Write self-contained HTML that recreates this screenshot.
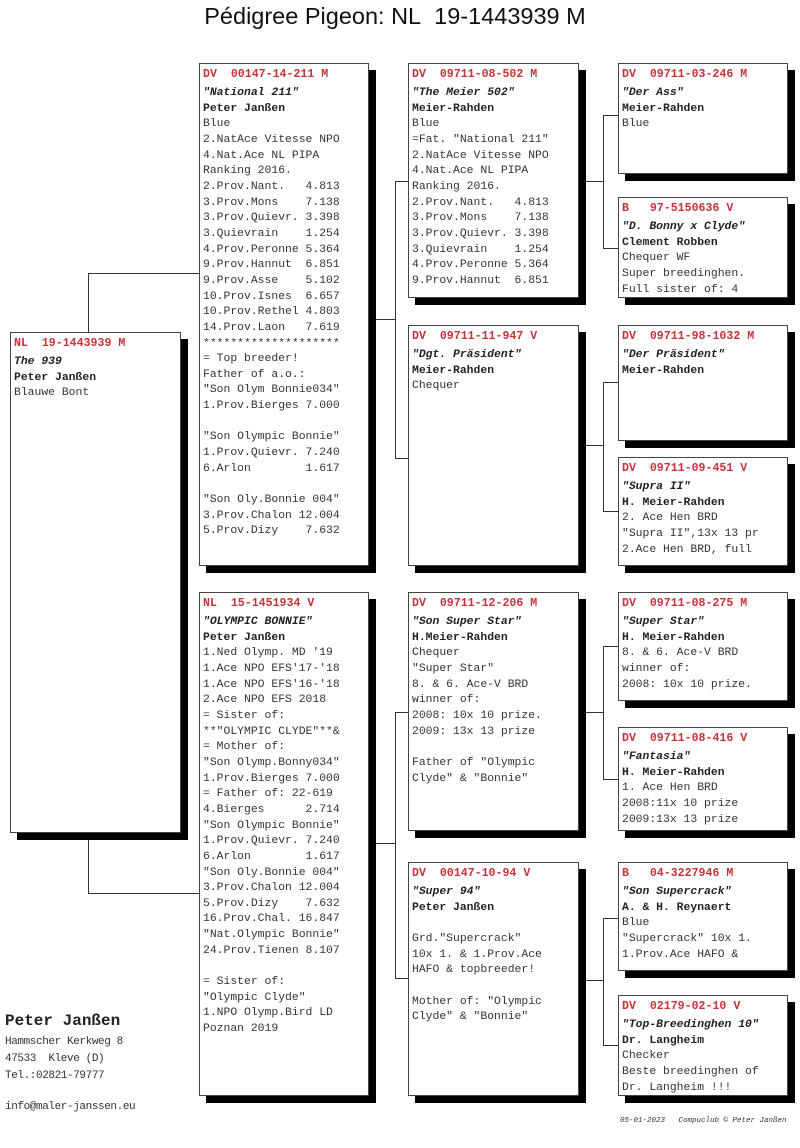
<!DOCTYPE html>
<html><head><meta charset="utf-8"><style>
body{margin:0;width:800px;height:1148px;background:#fff;position:relative;overflow:hidden;font-family:"Liberation Mono",monospace;}
.t{position:absolute;left:0;width:790px;top:3px;text-align:center;font:23.5px "Liberation Sans",sans-serif;color:#111;}
.b{position:absolute;background:#fff;border:1px solid #444;box-shadow:7px 7px 0 #000;box-sizing:border-box;padding:2px 0 0 3px;font-size:11.4px;line-height:15.65px;color:#333;white-space:pre;}
.b .h{color:#c8323a;font-weight:bold;line-height:18px;margin-bottom:2px;font-size:11.6px}
.b i{font-weight:bold;color:#222}
.b .n{font-weight:bold;color:#222}
.l{position:absolute;background:#333;}
.f{position:absolute;left:5px;font-size:11px;color:#333;white-space:pre;letter-spacing:-0.4px}
</style></head><body>
<div class="t">Pédigree Pigeon: NL&nbsp;&nbsp;19-1443939 M</div>

<div class="l" style="left:88px;top:273px;width:1px;height:60px"></div>
<div class="l" style="left:88px;top:273px;width:111px;height:1px"></div>
<div class="l" style="left:88px;top:832px;width:1px;height:61px"></div>
<div class="l" style="left:88px;top:893px;width:111px;height:1px"></div>

<div class="l" style="left:376px;top:319px;width:19px;height:1px"></div>
<div class="l" style="left:395px;top:181px;width:1px;height:278px"></div>
<div class="l" style="left:395px;top:181px;width:13px;height:1px"></div>
<div class="l" style="left:395px;top:458px;width:13px;height:1px"></div>

<div class="l" style="left:376px;top:843px;width:19px;height:1px"></div>
<div class="l" style="left:395px;top:712px;width:1px;height:267px"></div>
<div class="l" style="left:395px;top:712px;width:13px;height:1px"></div>
<div class="l" style="left:395px;top:978px;width:13px;height:1px"></div>

<div class="l" style="left:586px;top:181px;width:17px;height:1px"></div>
<div class="l" style="left:603px;top:115px;width:1px;height:134px"></div>
<div class="l" style="left:603px;top:115px;width:15px;height:1px"></div>
<div class="l" style="left:603px;top:248px;width:15px;height:1px"></div>

<div class="l" style="left:586px;top:445px;width:17px;height:1px"></div>
<div class="l" style="left:603px;top:382px;width:1px;height:130px"></div>
<div class="l" style="left:603px;top:382px;width:15px;height:1px"></div>
<div class="l" style="left:603px;top:511px;width:15px;height:1px"></div>

<div class="l" style="left:586px;top:712px;width:17px;height:1px"></div>
<div class="l" style="left:603px;top:646px;width:1px;height:134px"></div>
<div class="l" style="left:603px;top:646px;width:15px;height:1px"></div>
<div class="l" style="left:603px;top:779px;width:15px;height:1px"></div>

<div class="l" style="left:586px;top:980px;width:17px;height:1px"></div>
<div class="l" style="left:603px;top:918px;width:1px;height:128px"></div>
<div class="l" style="left:603px;top:918px;width:15px;height:1px"></div>
<div class="l" style="left:603px;top:1045px;width:15px;height:1px"></div>

<div class="b" style="left:10px;top:332px;width:171px;height:501px"><div class="h">NL  19-1443939 M</div><i>The 939</i>
<span class="n">Peter Janßen</span>
Blauwe Bont</div>

<div class="b" style="left:199px;top:63px;width:170px;height:503px"><div class="h">DV  00147-14-211 M</div><i>"National 211"</i>
<span class="n">Peter Janßen</span>
Blue
2.NatAce Vitesse NPO
4.Nat.Ace NL PIPA
Ranking 2016.
2.Prov.Nant.   4.813
3.Prov.Mons    7.138
3.Prov.Quievr. 3.398
3.Quievrain    1.254
4.Prov.Peronne 5.364
9.Prov.Hannut  6.851
9.Prov.Asse    5.102
10.Prov.Isnes  6.657
10.Prov.Rethel 4.803
14.Prov.Laon   7.619
********************
= Top breeder!
Father of a.o.:
"Son Olym Bonnie034"
1.Prov.Bierges 7.000

"Son Olympic Bonnie"
1.Prov.Quievr. 7.240
6.Arlon        1.617

"Son Oly.Bonnie 004"
3.Prov.Chalon 12.004
5.Prov.Dizy    7.632</div>

<div class="b" style="left:199px;top:592px;width:170px;height:504px"><div class="h">NL  15-1451934 V</div><i>"OLYMPIC BONNIE"</i>
<span class="n">Peter Janßen</span>
1.Ned Olymp. MD '19
1.Ace NPO EFS'17-'18
1.Ace NPO EFS'16-'18
2.Ace NPO EFS 2018
= Sister of:
**"OLYMPIC CLYDE"**&amp;
= Mother of:
"Son Olymp.Bonny034"
1.Prov.Bierges 7.000
= Father of: 22-619
4.Bierges      2.714
"Son Olympic Bonnie"
1.Prov.Quievr. 7.240
6.Arlon        1.617
"Son Oly.Bonnie 004"
3.Prov.Chalon 12.004
5.Prov.Dizy    7.632
16.Prov.Chal. 16.847
"Nat.Olympic Bonnie"
24.Prov.Tienen 8.107

= Sister of:
"Olympic Clyde"
1.NPO Olymp.Bird LD
Poznan 2019</div>

<div class="b" style="left:408px;top:63px;width:171px;height:235px"><div class="h">DV  09711-08-502 M</div><i>"The Meier 502"</i>
<span class="n">Meier-Rahden</span>
Blue
=Fat. "National 211"
2.NatAce Vitesse NPO
4.Nat.Ace NL PIPA
Ranking 2016.
2.Prov.Nant.   4.813
3.Prov.Mons    7.138
3.Prov.Quievr. 3.398
3.Quievrain    1.254
4.Prov.Peronne 5.364
9.Prov.Hannut  6.851</div>

<div class="b" style="left:408px;top:325px;width:171px;height:241px"><div class="h">DV  09711-11-947 V</div><i>"Dgt. Präsident"</i>
<span class="n">Meier-Rahden</span>
Chequer</div>

<div class="b" style="left:408px;top:592px;width:171px;height:239px"><div class="h">DV  09711-12-206 M</div><i>"Son Super Star"</i>
<span class="n">H.Meier-Rahden</span>
Chequer
"Super Star"
8. &amp; 6. Ace-V BRD
winner of:
2008: 10x 10 prize.
2009: 13x 13 prize

Father of "Olympic
Clyde" &amp; "Bonnie"</div>

<div class="b" style="left:408px;top:862px;width:171px;height:234px"><div class="h">DV  00147-10-94 V</div><i>"Super 94"</i>
<span class="n">Peter Janßen</span>

Grd."Supercrack"
10x 1. &amp; 1.Prov.Ace
HAFO &amp; topbreeder!

Mother of: "Olympic
Clyde" &amp; "Bonnie"</div>

<div class="b" style="left:618px;top:63px;width:170px;height:111px"><div class="h">DV  09711-03-246 M</div><i>"Der Ass"</i>
<span class="n">Meier-Rahden</span>
Blue</div>
<div class="b" style="left:618px;top:197px;width:170px;height:101px"><div class="h">B   97-5150636 V</div><i>"D. Bonny x Clyde"</i>
<span class="n">Clement Robben</span>
Chequer WF
Super breedinghen.
Full sister of: 4</div>
<div class="b" style="left:618px;top:325px;width:170px;height:116px"><div class="h">DV  09711-98-1032 M</div><i>"Der Präsident"</i>
<span class="n">Meier-Rahden</span></div>
<div class="b" style="left:618px;top:457px;width:170px;height:109px"><div class="h">DV  09711-09-451 V</div><i>"Supra II"</i>
<span class="n">H. Meier-Rahden</span>
2. Ace Hen BRD
"Supra II",13x 13 pr
2.Ace Hen BRD, full</div>
<div class="b" style="left:618px;top:592px;width:170px;height:109px"><div class="h">DV  09711-08-275 M</div><i>"Super Star"</i>
<span class="n">H. Meier-Rahden</span>
8. &amp; 6. Ace-V BRD
winner of:
2008: 10x 10 prize.</div>
<div class="b" style="left:618px;top:727px;width:170px;height:104px"><div class="h">DV  09711-08-416 V</div><i>"Fantasia"</i>
<span class="n">H. Meier-Rahden</span>
1. Ace Hen BRD
2008:11x 10 prize
2009:13x 13 prize</div>
<div class="b" style="left:618px;top:862px;width:170px;height:109px"><div class="h">B   04-3227946 M</div><i>"Son Supercrack"</i>
<span class="n">A. &amp; H. Reynaert</span>
Blue
"Supercrack" 10x 1.
1.Prov.Ace HAFO &amp;</div>
<div class="b" style="left:618px;top:995px;width:170px;height:101px"><div class="h">DV  02179-02-10 V</div><i>"Top-Breedinghen 10"</i>
<span class="n">Dr. Langheim</span>
Checker
Beste breedinghen of
Dr. Langheim !!!</div>

<div class="f" style="top:1012px;font-size:16px;font-weight:bold;color:#222;letter-spacing:0">Peter Janßen</div>
<div class="f" style="top:1036px">Hammscher Kerkweg 8</div>
<div class="f" style="top:1053px">47533  Kleve (D)</div>
<div class="f" style="top:1070px">Tel.:02821-79777</div>
<div class="f" style="top:1101px">info@maler-janssen.eu</div>
<div style="position:absolute;left:620px;top:1117px;font:italic 7.5px 'Liberation Mono',monospace;color:#333;white-space:pre">05-01-2023   Compuclub © Peter Janßen</div>
</body></html>
